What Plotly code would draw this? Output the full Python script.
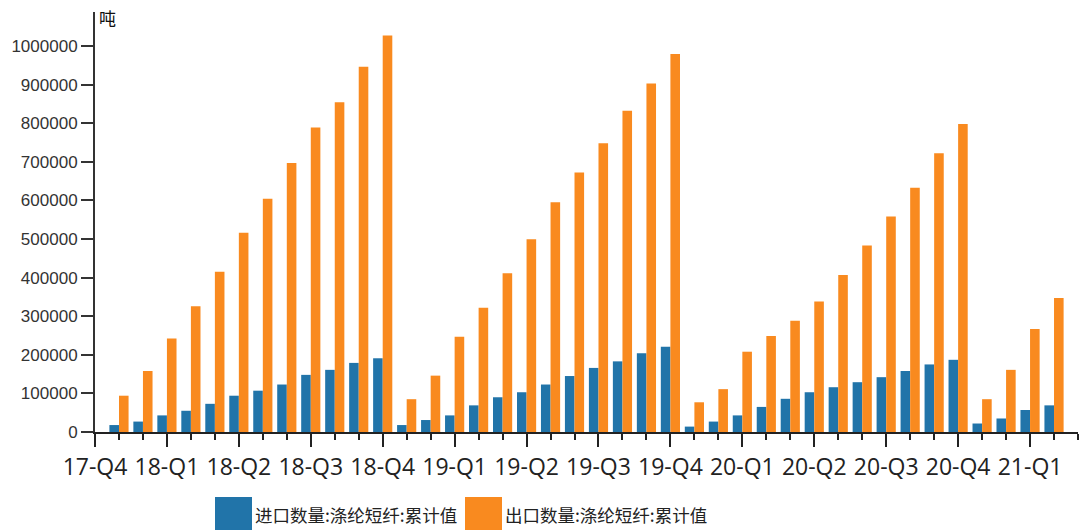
import plotly.graph_objects as go

# Monthly categories (cumulative year-to-date values)
months = [
    "2018-01", "2018-02", "2018-03", "2018-04", "2018-05", "2018-06",
    "2018-07", "2018-08", "2018-09", "2018-10", "2018-11", "2018-12",
    "2019-01", "2019-02", "2019-03", "2019-04", "2019-05", "2019-06",
    "2019-07", "2019-08", "2019-09", "2019-10", "2019-11", "2019-12",
    "2020-01", "2020-02", "2020-03", "2020-04", "2020-05", "2020-06",
    "2020-07", "2020-08", "2020-09", "2020-10", "2020-11", "2020-12",
    "2021-01", "2021-02", "2021-03", "2021-04",
]

imports = [
    18000, 27000, 43000, 55000, 73000, 94000, 107000, 123000, 148000, 161000, 179000, 191000,
    18000, 31000, 43000, 69000, 90000, 103000, 123000, 145000, 166000, 183000, 204000, 221000,
    14000, 27000, 43000, 65000, 86000, 103000, 116000, 129000, 142000, 158000, 175000, 187000,
    22000, 35000, 57000, 69000,
]

exports = [
    94000, 158000, 242000, 326000, 415000, 516000, 604000, 697000, 789000, 854000, 946000, 1027000,
    85000, 146000, 247000, 322000, 411000, 499000, 595000, 672000, 748000, 832000, 903000, 979000,
    77000, 111000, 208000, 249000, 288000, 338000, 407000, 483000, 558000, 633000, 722000, 798000,
    85000, 161000, 267000, 347000,
]

# Quarter labels sit on the quarter-end month (17-Q4 = Dec 2017, one slot before the first month)
quarter_labels = ["17-Q4", "18-Q1", "18-Q2", "18-Q3", "18-Q4", "19-Q1", "19-Q2",
                  "19-Q3", "19-Q4", "20-Q1", "20-Q2", "20-Q3", "20-Q4", "21-Q1"]

series_names = ["进口数量:涤纶短纤:累计值", "出口数量:涤纶短纤:累计值"]
colors = ["#2174a9", "#f98a1f"]
unit = "吨"

x_idx = list(range(len(months)))
quarter_pos = [3 * i - 1 for i in range(len(quarter_labels))]

W, H = 1091, 532
L, R, T, B = 95, 13, 12, 100
pw, ph = W - L - R, H - T - B

fig = go.Figure()
for name, vals, col in zip(series_names, [imports, exports], colors):
    fig.add_trace(go.Bar(
        x=x_idx, y=vals, name=name, marker=dict(color=col, line=dict(width=0)),
        customdata=months, hovertemplate="%{customdata}<br>%{y}<extra>" + name + "</extra>",
    ))

fig.update_layout(
    width=W, height=H,
    margin=dict(l=L, r=R, t=T, b=B),
    paper_bgcolor="white", plot_bgcolor="white",
    barmode="group", bargap=0.2, bargroupgap=0,
    showlegend=False,
    font=dict(family="Liberation Sans", color="#333"),
)

fig.update_xaxes(
    range=[-1, len(months)],
    tickmode="array", tickvals=quarter_pos, ticktext=quarter_labels,
    ticks="outside", ticklen=13, tickwidth=2, tickcolor="#222",
    minor=dict(ticks="outside", ticklen=6, tickwidth=2, tickcolor="#222", dtick=1, tick0=0),
    showline=True, linecolor="#222", linewidth=2,
    showgrid=False, zeroline=False,
    tickfont=dict(family="Open Sans", size=23, color="#222"),
)

fig.update_yaxes(
    range=[0, 1088000],
    tickmode="linear", tick0=0, dtick=100000, tickformat="d",
    ticks="outside", ticklen=12, tickwidth=2, tickcolor="#333",
    showline=True, linecolor="#333", linewidth=2,
    showgrid=False, zeroline=False,
    tickfont=dict(family="Liberation Sans", size=17, color="#333"),
)

# Unit label at the top of the value axis
fig.add_annotation(
    text=unit, xref="paper", yref="paper", x=0.002, y=(H - B - 18) / ph,
    xanchor="left", yanchor="middle", showarrow=False,
    font=dict(family="Noto Sans CJK SC", size=17, color="#111"),
)

# Legend: large colour swatches with labels underneath the chart
def px_x(p):
    return (p - L) / pw

def px_y(p):
    return (H - B - p) / ph

legend_items = [(215, 252), (465, 502)]
for (x0, x1), name, col in zip(legend_items, series_names, colors):
    fig.add_shape(type="rect", xref="paper", yref="paper",
                  x0=px_x(x0), x1=px_x(x1), y0=px_y(530), y1=px_y(497),
                  fillcolor=col, line=dict(width=0))
    fig.add_annotation(
        text=name, xref="paper", yref="paper", x=px_x(x1 + 1), y=px_y(514),
        xanchor="left", yanchor="middle", showarrow=False,
        font=dict(family="Noto Sans CJK SC", size=17.5, color="#222"),
    )

fig.write_html("out.html")
